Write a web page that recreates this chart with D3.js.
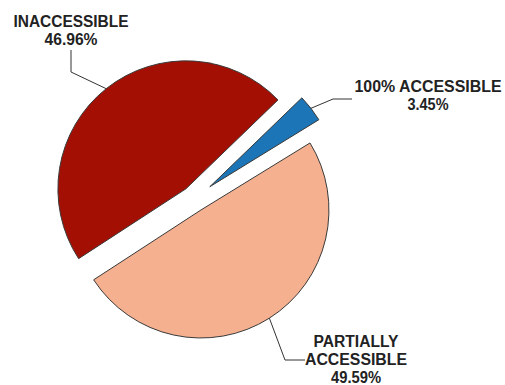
<!DOCTYPE html>
<html><head><meta charset="utf-8">
<script src="https://cdn.jsdelivr.net/npm/d3@7"></script>
<style>html,body{margin:0;padding:0;background:#fff;}</style>
</head><body>
<svg id="chart" width="505" height="385"></svg>
<script>
const categories = ["100% ACCESSIBLE", "PARTIALLY ACCESSIBLE", "INACCESSIBLE"];
const values = [3.45, 49.59, 46.96];
const valueLabels = ["3.45%", "49.59%", "46.96%"];
const labelLines = [["100% ACCESSIBLE", "3.45%"], ["PARTIALLY", "ACCESSIBLE", "49.59%"], ["INACCESSIBLE", "46.96%"]];

const colors = ["#1b75b6", "#f4b08f", "#a30f02"];
const cx = 194, cy = 199, R = 128;
const explode = [20, 13, 13];
// label layout: text anchor point, first baseline, line widths, leader elbow points
const labelLayout = [
  {x: 428, y: 92, widths: [147, 41], pts: [[333, 99], [352, 99]]},
  {x: 356, y: 347, widths: [85, 102, 50], pts: [[285, 360], [305, 360]]},
  {x: 71, y: 27, widths: [115, 53], pts: [[71, 72], [71, 50]]}
];

const svg = d3.select("#chart");
const pie = d3.pie().sort(null).value(d => d)
  .startAngle(46 * Math.PI / 180).endAngle(46 * Math.PI / 180 + 2 * Math.PI);
const arcs = pie(values);
const arc = d3.arc().innerRadius(0).outerRadius(R);

const g = svg.append("g").attr("transform", `translate(${cx},${cy})`);
arcs.forEach((a, i) => {
  const mid = (a.startAngle + a.endAngle) / 2;
  const dx = Math.sin(mid) * explode[i], dy = -Math.cos(mid) * explode[i];
  g.append("path").attr("d", arc(a))
    .attr("transform", `translate(${dx},${dy})`)
    .attr("fill", colors[i]).attr("stroke", "#3a3a3a").attr("stroke-width", 1)
    .attr("stroke-linejoin", "miter");
  // leader line start on outer arc at mid angle
  const sx = cx + dx + Math.sin(mid) * R, sy = cy + dy - Math.cos(mid) * R;
  const L = labelLayout[i];
  const pts = [[sx, sy]].concat(L.pts);
  svg.append("path").attr("d", d3.line()(pts)).attr("fill", "none")
    .attr("stroke", "#333").attr("stroke-width", 1);
  labelLines[i].forEach((t, j) => {
    svg.append("text").attr("x", L.x).attr("y", L.y + j * 18)
      .attr("text-anchor", "middle")
      .attr("font-family", "'Liberation Sans', Arial, sans-serif")
      .attr("font-weight", "bold").attr("font-size", 16)
      .attr("fill", "#222")
      .attr("textLength", L.widths[j]).attr("lengthAdjust", "spacingAndGlyphs")
      .text(t);
  });
});
</script>
</body></html>
